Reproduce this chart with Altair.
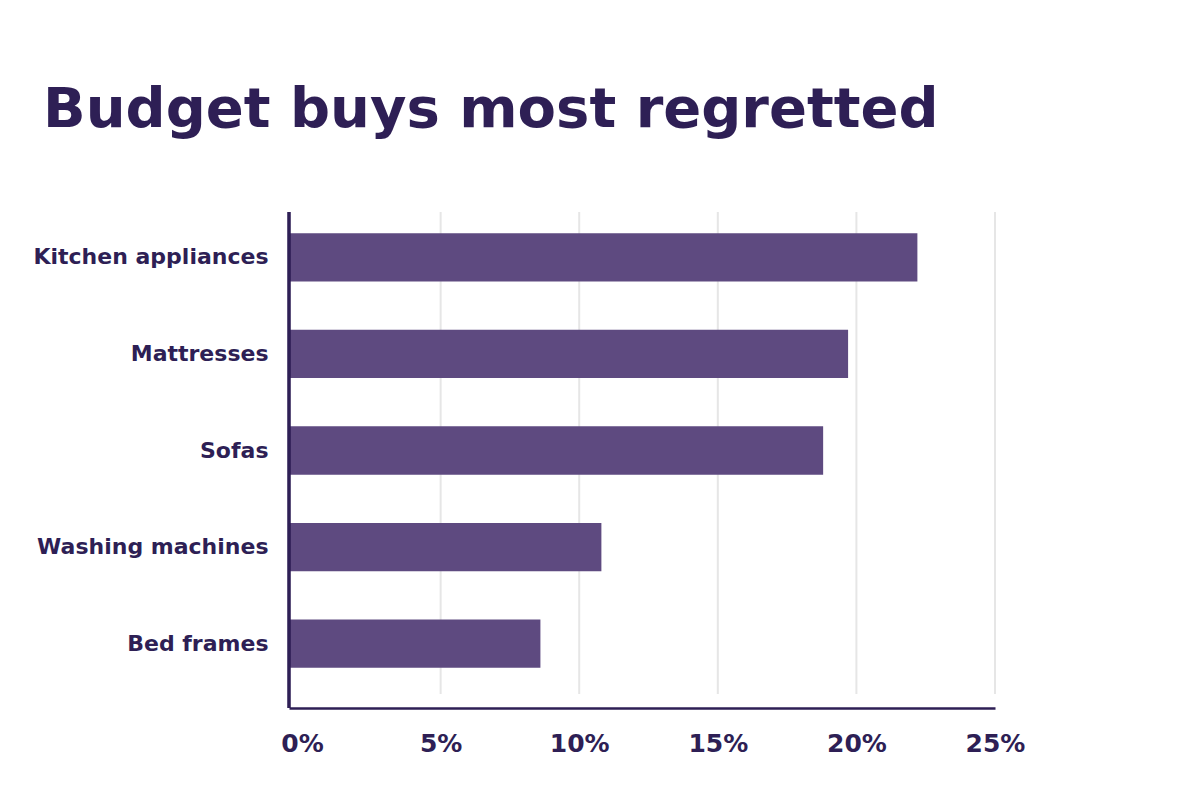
import altair as alt
import pandas as pd

# Survey results: share of respondents who most regret buying each item on a budget
categories = ["Kitchen appliances", "Mattresses", "Sofas", "Washing machines", "Bed frames"]
values = [22.2, 19.7, 18.8, 10.8, 8.6]
grid_values = [5, 10, 15, 20, 25]
tick_values = [0, 5, 10, 15, 20, 25]
title_text = "Budget buys most regretted"

BAR = "#5e4a80"
INK = "#2e1f55"
GRID = "#e6e6e6"
FONT = "DejaVu Sans"

W, H = 706, 496
X_MIN = -0.47

bars_df = pd.DataFrame({"item": categories, "share": values})
grid_df = pd.DataFrame({"g": grid_values})
title_df = pd.DataFrame({"t": [title_text]})

x_scale = alt.Scale(domain=[X_MIN, 25], nice=False, zero=False)
y_scale = alt.Scale(domain=categories, range=[-3, 480], paddingInner=0.5, paddingOuter=0.25)

grid = alt.Chart(grid_df).mark_rule(color=GRID, strokeWidth=2).encode(
    x=alt.X("g:Q", scale=x_scale),
    y=alt.value(0),
    y2=alt.value(482),
)

bars = alt.Chart(bars_df).mark_bar(color=BAR).encode(
    y=alt.Y(
        "item:N",
        sort=categories,
        scale=y_scale,
        axis=alt.Axis(
            title=None,
            domain=False,
            ticks=False,
            labelPadding=21,
            labelLimit=400,
            labelFont=FONT,
            labelFontSize=22,
            labelFontWeight=700,
            labelColor=INK,
        ),
    ),
    x=alt.X(
        "share:Q",
        scale=x_scale,
        stack=None,
        axis=alt.Axis(
            title=None,
            values=tick_values,
            labelExpr="datum.value + '%'",
            labelFlush=False,
            grid=False,
            ticks=False,
            domain=True,
            domainColor=INK,
            domainWidth=2.5,
            labelPadding=23,
            labelFont=FONT,
            labelFontSize=25,
            labelFontWeight=700,
            labelColor=INK,
        ),
    ),
    x2=alt.datum(X_MIN),
)

y_line = alt.Chart(grid_df).mark_rule(color=INK, strokeWidth=2.5).encode(
    x=alt.value(0),
    y=alt.value(0),
    y2=alt.value(H),
)

title = alt.Chart(title_df).mark_text(
    align="left",
    baseline="alphabetic",
    font=FONT,
    fontSize=56,
    fontWeight=700,
    color=INK,
).encode(
    text="t:N",
    x=alt.value(-246),
    y=alt.value(-85),
)

chart = (
    alt.layer(grid, bars, y_line, title)
    .properties(
        width=W,
        height=H,
        autosize="none",
        padding={"left": 289, "top": 212, "right": 205, "bottom": 92},
        background="white",
    )
    .configure_view(stroke=None)
)

chart.save("out.html", embed_options={"renderer": "svg", "actions": False})
